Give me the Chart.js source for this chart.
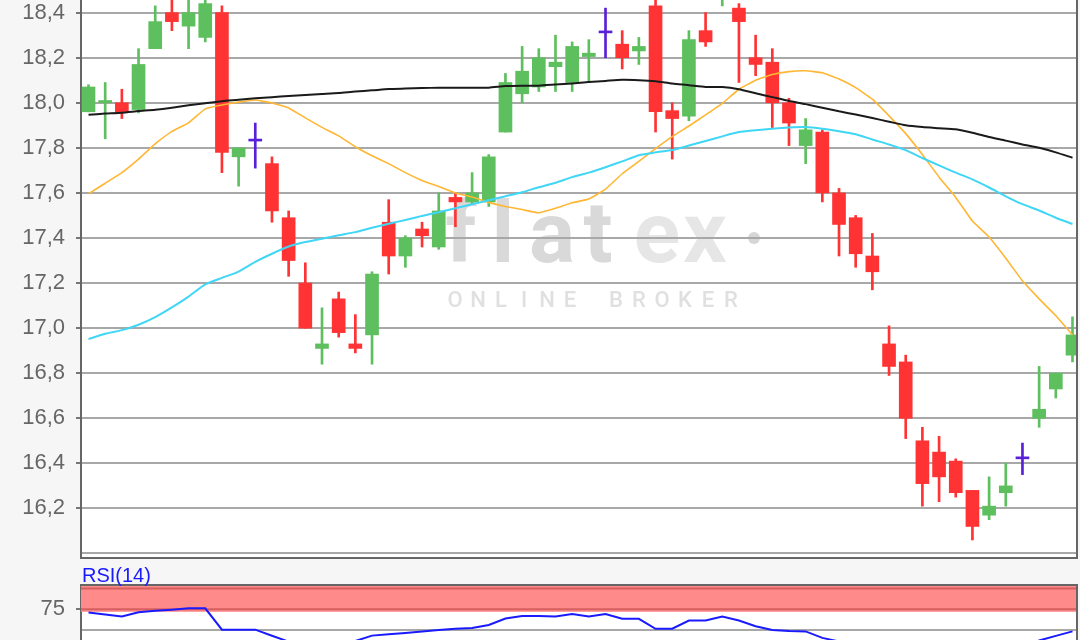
<!DOCTYPE html>
<html><head><meta charset="utf-8">
<script src="https://cdn.jsdelivr.net/npm/chart.js@4.4.1/dist/chart.umd.min.js"></script>
<style>
html,body{margin:0;padding:0;background:#f6f6f6;overflow:hidden;width:1080px;height:640px;}
#main{position:absolute;left:0;top:0;}
#rsi{position:absolute;left:0;top:560px;}
</style></head><body>
<canvas id="main" width="1080" height="560"></canvas>
<canvas id="rsi" width="1080" height="120"></canvas>
<script>
// ---- data ----
const sessions = ['1','2','3','4','5','6','7','8','9','10','11','12','13','14','15','16','17','18','19','20',
  '21','22','23','24','25','26','27','28','29','30','31','32','33','34','35','36','37','38','39','40',
  '41','42','43','44','45','46','47','48','49','50','51','52','53','54','55','56','57','58','59','60'];
const openP = [17.96,18.00,18.00,17.97,18.24,18.40,18.34,18.29,18.40,17.76,
  17.83,17.73,17.49,17.20,16.91,17.13,16.93,16.97,17.47,17.32,
  17.44,17.36,17.58,17.56,17.56,17.87,18.04,18.07,18.16,18.09,
  18.205,18.31,18.26,18.23,18.43,17.965,17.94,18.32,18.47,18.42,
  18.20,18.18,18.00,17.81,17.87,17.60,17.49,17.32,16.93,16.85,
  16.50,16.45,16.41,16.28,16.17,16.27,16.42,16.60,16.73,16.88];
const highP = [18.08,18.09,18.06,18.24,18.43,18.49,18.48,18.47,18.43,17.80,
  17.91,17.76,17.52,17.29,17.09,17.16,17.06,17.25,17.57,17.41,
  17.47,17.60,17.60,17.69,17.77,18.13,18.25,18.24,18.30,18.27,
  18.28,18.42,18.32,18.29,18.49,18.00,18.32,18.40,18.56,18.44,
  18.30,18.24,18.02,17.93,17.88,17.62,17.50,17.42,17.01,16.88,
  16.56,16.52,16.42,16.28,16.34,16.40,16.49,16.83,16.80,17.05];
const lowP = [17.96,17.84,17.93,17.955,18.24,18.32,18.24,18.27,17.69,17.63,
  17.71,17.47,17.23,17.00,16.84,16.96,16.89,16.84,17.24,17.27,
  17.36,17.35,17.45,17.55,17.54,17.87,18.00,18.05,18.05,18.05,
  18.09,18.20,18.15,18.17,17.87,17.75,17.92,18.25,18.43,18.09,
  18.12,17.89,17.81,17.73,17.56,17.32,17.27,17.17,16.79,16.51,
  16.21,16.23,16.25,16.06,16.15,16.21,16.35,16.56,16.69,16.85];
const closeP = [18.07,18.01,17.96,18.17,18.36,18.36,18.40,18.44,17.78,17.80,
  17.83,17.52,17.30,17.00,16.93,16.98,16.91,17.24,17.32,17.40,
  17.41,17.52,17.56,17.60,17.76,18.09,18.14,18.20,18.18,18.25,
  18.22,18.31,18.20,18.25,17.96,17.93,18.28,18.27,18.52,18.36,
  18.17,18.00,17.91,17.88,17.60,17.46,17.33,17.25,16.83,16.60,
  16.31,16.34,16.27,16.12,16.21,16.30,16.42,16.64,16.80,16.97];
const maLong = [17.947,17.952,17.956,17.963,17.969,17.978,17.989,17.998,18.007,18.013,
  18.02,18.025,18.03,18.035,18.039,18.043,18.05,18.055,18.061,18.063,
  18.065,18.067,18.067,18.067,18.067,18.074,18.076,18.076,18.081,18.086,
  18.092,18.097,18.102,18.1,18.095,18.085,18.078,18.07,18.07,18.06,
  18.042,18.025,18.008,17.994,17.978,17.962,17.948,17.932,17.916,17.9,
  17.892,17.887,17.882,17.867,17.848,17.832,17.815,17.8,17.78,17.756];
const maShort = [17.596,17.643,17.69,17.75,17.818,17.873,17.911,17.973,17.99,18.003,
  18.012,17.999,17.977,17.933,17.891,17.853,17.805,17.765,17.73,17.69,
  17.655,17.628,17.6,17.582,17.558,17.54,17.526,17.512,17.532,17.556,
  17.573,17.617,17.685,17.74,17.797,17.85,17.897,17.946,17.997,18.06,
  18.1,18.125,18.138,18.142,18.133,18.105,18.067,18.016,17.942,17.863,
  17.77,17.67,17.58,17.475,17.404,17.31,17.21,17.13,17.055,16.97];
const maMid = [16.951,16.975,16.991,17.015,17.049,17.092,17.14,17.194,17.223,17.251,
  17.294,17.33,17.362,17.382,17.397,17.412,17.426,17.445,17.463,17.48,
  17.498,17.514,17.532,17.55,17.567,17.585,17.603,17.625,17.645,17.67,
  17.69,17.714,17.74,17.767,17.78,17.79,17.81,17.83,17.851,17.87,
  17.878,17.885,17.89,17.892,17.885,17.874,17.86,17.837,17.815,17.79,
  17.755,17.722,17.69,17.66,17.624,17.585,17.55,17.522,17.49,17.462];
const rsi14 = [71,68.6,66.2,71.5,73.2,74.5,76.2,76.2,50.4,50.4,
  50.4,43,36,31,29,33,36.7,43.2,45,46.4,
  48.2,50,51.6,52.4,56,63.8,67,67,66.2,69.4,
  66.2,69.4,63.5,63.5,51.5,51.5,61.4,61.4,66.2,61.4,
  54.5,50,48.8,48.3,40.5,36,33,31,25,21,
  18,17,16,14,16,19,26,37.3,42.9,48.3];
const priceTicks = [16.0,16.2,16.4,16.6,16.8,17.0,17.2,17.4,17.6,17.8,18.0,18.2,18.4];
const rsiTicks = [25,50,75];
const rsiLabelled = [75];
const rsiBand = [75,100];

// ---- styles ----
const UP = '#5dbf5d', DOWN = '#ff3333', FLAT = '#5a1fd8';
const FONT = '"Liberation Sans", Arial, sans-serif';
const candleColor = sessions.map((s,i)=> closeP[i] > openP[i] ? UP : (closeP[i] < openP[i] ? DOWN : FLAT));
const X_MIN = -0.45, X_MAX = 59.27;
const pts = arr => sessions.map((s,i)=>({x:i, y:arr[i]}));

function yAxisFit(ax){ ax.width = 81; ax.paddingTop = 0; ax.paddingBottom = 0; }

const mainDecor = {
  id:'mainDecor',
  beforeDraw(chart){
    const {ctx, chartArea:a} = chart;
    ctx.save();
    ctx.fillStyle = '#f6f6f6'; ctx.fillRect(0,0,chart.width,chart.height);
    ctx.fillStyle = '#ffffff'; ctx.fillRect(a.left, a.top, a.right-a.left, a.bottom-a.top);
    // watermark logo
    ctx.textAlign = 'center'; ctx.textBaseline = 'alphabetic';
    ctx.font = 'bold 86px Roboto';
    const letters = [['f',461,'#d9d9d9'],['l',503,'#d9d9d9'],['a',552,'#d9d9d9'],['t',598,'#d9d9d9'],['e',657,'#e6e6e6'],['x',705,'#e6e6e6']];
    letters.forEach(([c,x,col])=>{ ctx.fillStyle = col; ctx.fillText(c, x, 262); });
    ctx.fillStyle = '#d6d6d6'; ctx.beginPath(); ctx.arc(754,238,6,0,Math.PI*2); ctx.fill();
    ctx.font = '500 22px Roboto'; ctx.fillStyle = '#e0e0e0';
    const sub = 'ONLINE BROKER';
    for (let i=0;i<sub.length;i++){ ctx.fillText(sub[i], 455 + i*23, 307); }
    ctx.restore();
  },
  afterDraw(chart){
    const {ctx, chartArea:a} = chart;
    ctx.save();
    ctx.strokeStyle = '#666'; ctx.lineWidth = 2;
    ctx.beginPath();
    ctx.moveTo(a.right, 0); ctx.lineTo(a.right, a.bottom);
    ctx.lineTo(a.left, a.bottom);
    ctx.stroke();
    ctx.restore();
  }
};

new Chart(document.getElementById('main'), {
  type:'bar',
  data:{ datasets:[
    {type:'line', data:pts(maLong), borderColor:'#1a1a1a', borderWidth:2, pointRadius:0, tension:0.2, order:0},
    {type:'line', data:pts(maMid), borderColor:'#40d6f6', borderWidth:2, pointRadius:0, tension:0.2, order:0},
    {type:'line', data:pts(maShort), borderColor:'#ffb632', borderWidth:1.6, pointRadius:0, tension:0.1, order:0},
    {type:'bar', data:sessions.map((s,i)=>({x:i, y:[openP[i], closeP[i]]})), backgroundColor:candleColor,
      barThickness:13, minBarLength:2, grouped:false, borderWidth:0, order:1},
    {type:'bar', data:sessions.map((s,i)=>({x:i, y:[lowP[i], highP[i]]})), backgroundColor:candleColor,
      barThickness:2, grouped:false, borderWidth:0, order:2}
  ]},
  options:{
    responsive:false, animation:false, devicePixelRatio:1,
    layout:{padding:{left:0,right:3,top:0,bottom:2}},
    plugins:{legend:{display:false}, tooltip:{enabled:false}},
    scales:{
      x:{type:'linear', display:false, min:X_MIN, max:X_MAX, offset:false},
      y:{position:'left', min:15.98, max:18.456,
        afterBuildTicks: ax => { ax.ticks = priceTicks.map(v=>({value:v})); },
        afterFit: yAxisFit,
        ticks:{font:{family:FONT,size:22}, color:'#666', padding:11,
          callback: v => v === priceTicks[0] ? '' : v.toFixed(1).replace('.', ',')},
        grid:{color:'#a8a8a8', lineWidth:2, tickLength:5,
          tickColor: c => (c.tick && c.tick.value === priceTicks[0]) ? 'rgba(0,0,0,0)' : '#777'},
        border:{display:true, color:'#666', width:2}
      }
    }
  },
  plugins:[mainDecor]
});

const rsiDecor = {
  id:'rsiDecor',
  beforeDraw(chart){
    const {ctx, chartArea:a} = chart;
    ctx.save();
    ctx.fillStyle = '#f6f6f6'; ctx.fillRect(0,0,chart.width,chart.height);
    ctx.fillStyle = '#ffffff'; ctx.fillRect(a.left, a.top, a.right-a.left, a.bottom-a.top);
    ctx.restore();
  },
  beforeDatasetsDraw(chart){
    const {ctx, chartArea:a, scales:{y}} = chart;
    const yLo = y.getPixelForValue(rsiBand[0]), yHi = y.getPixelForValue(rsiBand[1]);
    ctx.save();
    ctx.fillStyle = '#ff8a8a';
    ctx.fillRect(a.left, a.top, a.right-a.left, yLo + 2.5 - a.top);
    ctx.strokeStyle = '#d65f5f'; ctx.lineWidth = 2;
    ctx.beginPath();
    ctx.moveTo(a.left, yHi); ctx.lineTo(a.right, yHi);
    ctx.moveTo(a.left, yLo); ctx.lineTo(a.right, yLo);
    ctx.stroke();
    ctx.restore();
  },
  afterDraw(chart){
    const {ctx, chartArea:a} = chart;
    ctx.save();
    ctx.strokeStyle = '#666'; ctx.lineWidth = 2;
    ctx.beginPath();
    ctx.moveTo(a.left-1, a.top); ctx.lineTo(a.right, a.top); ctx.lineTo(a.right, a.bottom);
    ctx.stroke();
    ctx.fillStyle = '#1a1aff'; ctx.font = '20px ' + FONT; ctx.textAlign = 'left'; ctx.textBaseline = 'alphabetic';
    ctx.fillText('RSI(14)', 82, 22);
    ctx.restore();
  }
};

new Chart(document.getElementById('rsi'), {
  type:'line',
  data:{ datasets:[{data:pts(rsi14), borderColor:'#1a1aff', borderWidth:2, pointRadius:0, tension:0}]},
  options:{
    responsive:false, animation:false, devicePixelRatio:1,
    layout:{padding:{left:0,right:3,top:25,bottom:0}},
    plugins:{legend:{display:false}, tooltip:{enabled:false}},
    scales:{
      x:{type:'linear', display:false, min:X_MIN, max:X_MAX},
      y:{position:'left', min:-10.4, max:104.35,
        afterBuildTicks: ax => { ax.ticks = rsiTicks.map(v=>({value:v})); },
        afterFit: yAxisFit,
        ticks:{font:{family:FONT,size:22}, color:'#666', padding:11,
          callback: v => rsiLabelled.includes(v) ? String(v) : ''},
        grid:{color:'#a8a8a8', lineWidth:2, tickLength:5,
          tickColor: c => (c.tick && rsiLabelled.includes(c.tick.value)) ? '#777' : 'rgba(0,0,0,0)'},
        border:{display:true, color:'#666', width:2}
      }
    }
  },
  plugins:[rsiDecor]
});
</script>
</body></html>
